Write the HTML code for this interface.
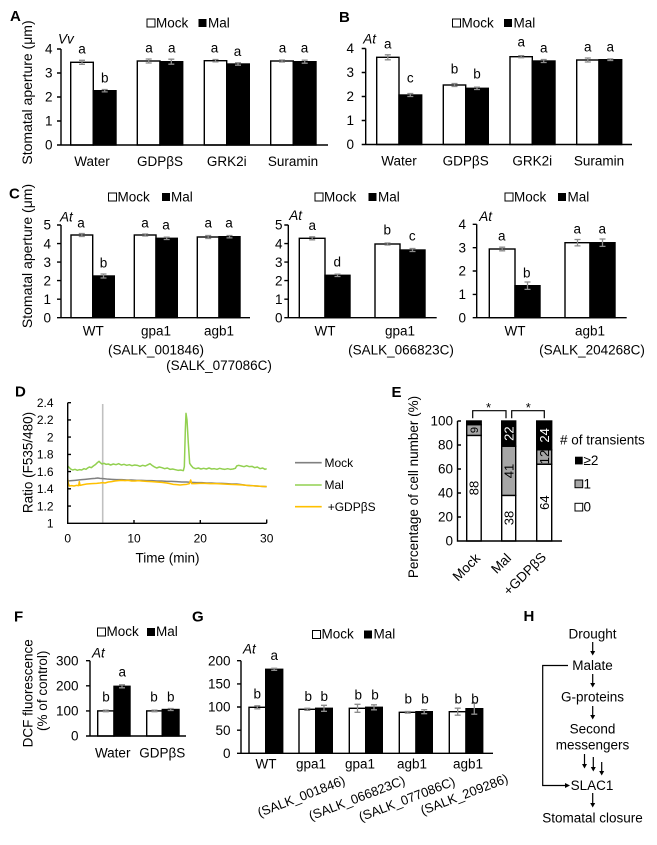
<!DOCTYPE html>
<html><head><meta charset="utf-8"><style>
html,body{margin:0;padding:0;background:#fff;}
svg{display:block;}
text{font-family:"Liberation Sans",Arial,sans-serif;fill:#000;}
.pl{font-weight:bold;font-size:15px;}
.it{font-style:italic;}
</style></head><body>
<svg width="657" height="845" viewBox="0 0 657 845" font-size="13.5">
<!-- ===== Panel A ===== -->
<text class="pl" x="10" y="21">A</text>
<rect x="147" y="19" width="8" height="8" fill="#fff" stroke="#000" stroke-width="1"/><text x="156" y="27.5">Mock</text>
<rect x="198.5" y="19" width="8" height="8" fill="#000"/><text x="208" y="27.5">Mal</text>
<text class="it" x="58" y="43.5">Vv</text>
<text transform="translate(32,92.5) rotate(-90)" text-anchor="middle" font-size="14">Stomatal aperture (μm)</text>
<g text-anchor="end"><text x="52.5" y="53.7">4</text><text x="52.5" y="77.7">3</text><text x="52.5" y="101.7">2</text><text x="52.5" y="125.7">1</text><text x="52.5" y="149.7">0</text></g>
<g stroke="#000" stroke-width="1.4">
<rect x="70.7" y="62.3" width="22.6" height="82.7" fill="#fff"/><rect x="93.3" y="90.7" width="22.7" height="54.3" fill="#000"/>
<rect x="137.3" y="61" width="22.7" height="84" fill="#fff"/><rect x="160" y="61.7" width="22.7" height="83.3" fill="#000"/>
<rect x="204.3" y="60.7" width="22.4" height="84.3" fill="#fff"/><rect x="226.7" y="64" width="22.6" height="81" fill="#000"/>
<rect x="270.7" y="61" width="22.6" height="84" fill="#fff"/><rect x="293.3" y="61.7" width="22.7" height="83.3" fill="#000"/>
</g>
<path d="M61,49V145H328M57,49H61M57,73H61M57,97H61M57,121H61M57,145H61" stroke="#000" stroke-width="1.4" fill="none"/>
<path d="M82,60.3V64.3M79,60.3H85M79,64.3H85M104.7,89.5V91.9M101.7,89.5H107.7M101.7,91.9H107.7M148.7,59V63M145.7,59H151.7M145.7,63H151.7M171.3,59.2V64.2M168.3,59.2H174.3M168.3,64.2H174.3M215.5,59.5V61.9M212.5,59.5H218.5M212.5,61.9H218.5M238,62.8V65.2M235,62.8H241M235,65.2H241M282,60V62M279,60H285M279,62H285M304.7,60.2V63.2M301.7,60.2H307.7M301.7,63.2H307.7" stroke="#8c8c8c" stroke-width="1.3" fill="none"/>
<g text-anchor="middle"><text x="82" y="53.5">a</text><text x="104.7" y="82.5">b</text><text x="149" y="52.7">a</text><text x="171.7" y="52.7">a</text><text x="214.5" y="52.3">a</text><text x="237.5" y="56">a</text><text x="282.5" y="52.7">a</text><text x="304.5" y="52.7">a</text>
<text x="92" y="166">Water</text><text x="160" y="166">GDPβS</text><text x="226.7" y="166">GRK2i</text><text x="293" y="166">Suramin</text></g>

<!-- ===== Panel B ===== -->
<text class="pl" x="339" y="22">B</text>
<rect x="452.5" y="19" width="8" height="8" fill="#fff" stroke="#000" stroke-width="1"/><text x="461.5" y="27.5">Mock</text>
<rect x="504" y="19" width="8" height="8" fill="#000"/><text x="513.5" y="27.5">Mal</text>
<text class="it" x="363.3" y="43.3">At</text>
<g text-anchor="end"><text x="354" y="53.2">4</text><text x="354" y="77.2">3</text><text x="354" y="101.2">2</text><text x="354" y="125.2">1</text><text x="354" y="149.2">0</text></g>
<g stroke="#000" stroke-width="1.4">
<rect x="376.7" y="57.3" width="22.3" height="87.2" fill="#fff"/><rect x="399" y="95" width="22.7" height="49.5" fill="#000"/>
<rect x="443.3" y="85" width="22.4" height="59.5" fill="#fff"/><rect x="465.7" y="88.3" width="22.6" height="56.2" fill="#000"/>
<rect x="510" y="56.7" width="22.3" height="87.8" fill="#fff"/><rect x="532.3" y="61" width="22.7" height="83.5" fill="#000"/>
<rect x="576.7" y="60" width="22.3" height="84.5" fill="#fff"/><rect x="599" y="59.7" width="22.7" height="84.8" fill="#000"/>
</g>
<path d="M365.7,48.5V144.5H632M361.7,48.5H365.7M361.7,72.5H365.7M361.7,96.5H365.7M361.7,120.5H365.7M361.7,144.5H365.7" stroke="#000" stroke-width="1.4" fill="none"/>
<path d="M387.8,54.8V59.8M384.8,54.8H390.8M384.8,59.8H390.8M410.3,93.5V96.5M407.3,93.5H413.3M407.3,96.5H413.3M454.5,83.5V86.5M451.5,83.5H457.5M451.5,86.5H457.5M477,87.1V89.5M474,87.1H480M474,89.5H480M521.2,55.7V57.7M518.2,55.7H524.2M518.2,57.7H524.2M543.7,59.5V62.5M540.7,59.5H546.7M540.7,62.5H546.7M587.8,58V62M584.8,58H590.8M584.8,62H590.8M610.3,58.9V60.5M607.3,58.9H613.3M607.3,60.5H613.3" stroke="#8c8c8c" stroke-width="1.3" fill="none"/>
<g text-anchor="middle"><text x="387.8" y="48.3">a</text><text x="410.3" y="82.3">c</text><text x="454.5" y="73.3">b</text><text x="477" y="78.3">b</text><text x="521.2" y="46.7">a</text><text x="543.7" y="52.3">a</text><text x="587.8" y="51.7">a</text><text x="610.3" y="51.7">a</text>
<text x="399" y="165.7">Water</text><text x="465.7" y="165.7">GDPβS</text><text x="532.3" y="165.7">GRK2i</text><text x="599" y="165.7">Suramin</text></g>

<!-- ===== Panel C ===== -->
<text class="pl" x="9" y="198.5">C</text>
<rect x="108.5" y="193" width="8" height="8" fill="#fff" stroke="#000" stroke-width="1"/><text x="117.5" y="201.5">Mock</text>
<rect x="162" y="193" width="8" height="8" fill="#000"/><text x="171" y="201.5">Mal</text>
<rect x="315" y="193" width="8" height="8" fill="#fff" stroke="#000" stroke-width="1"/><text x="324" y="201.5">Mock</text>
<rect x="368.5" y="193" width="8" height="8" fill="#000"/><text x="378" y="201.5">Mal</text>
<rect x="505" y="193" width="8" height="8" fill="#fff" stroke="#000" stroke-width="1"/><text x="514" y="201.5">Mock</text>
<rect x="558" y="193" width="8" height="8" fill="#000"/><text x="567.5" y="201.5">Mal</text>
<text transform="translate(32,256) rotate(-90)" text-anchor="middle" font-size="14">Stomatal aperture (μm)</text>
<text class="it" x="60" y="221.7">At</text><text class="it" x="289.3" y="220">At</text><text class="it" x="479.3" y="221">At</text>
<g text-anchor="end">
<text x="51" y="229.7">5</text><text x="51" y="248.3">4</text><text x="51" y="266.8">3</text><text x="51" y="285.3">2</text><text x="51" y="303.9">1</text><text x="51" y="322.4">0</text>
<text x="282.5" y="229.7">5</text><text x="282.5" y="248.3">4</text><text x="282.5" y="266.8">3</text><text x="282.5" y="285.3">2</text><text x="282.5" y="303.9">1</text><text x="282.5" y="322.4">0</text>
<text x="466" y="229">4</text><text x="466" y="252.4">3</text><text x="466" y="275.7">2</text><text x="466" y="299.1">1</text><text x="466" y="322.4">0</text>
</g>
<g stroke="#000" stroke-width="1.4">
<rect x="71" y="235" width="21.7" height="82.7" fill="#fff"/><rect x="92.7" y="276" width="21.6" height="41.7" fill="#000"/>
<rect x="134.3" y="235" width="21.7" height="82.7" fill="#fff"/><rect x="156" y="238.3" width="21.3" height="79.4" fill="#000"/>
<rect x="197.3" y="237" width="21.7" height="80.7" fill="#fff"/><rect x="219" y="236.7" width="21" height="81" fill="#000"/>
<rect x="299.3" y="238.3" width="25.7" height="79.4" fill="#fff"/><rect x="325" y="275.3" width="25" height="42.4" fill="#000"/>
<rect x="375" y="244" width="25" height="73.7" fill="#fff"/><rect x="400" y="250" width="25" height="67.7" fill="#000"/>
<rect x="489.3" y="249" width="25.7" height="68.7" fill="#fff"/><rect x="515" y="285.7" width="25" height="32" fill="#000"/>
<rect x="565" y="242.7" width="25" height="75" fill="#fff"/><rect x="590" y="242.7" width="25" height="75" fill="#000"/>
</g>
<path d="M61,225V317.7H250M57,225H61M57,243.6H61M57,262.1H61M57,280.6H61M57,299.2H61M57,317.7H61
M288.3,225V317.7H436.7M284.3,225H288.3M284.3,243.6H288.3M284.3,262.1H288.3M284.3,280.6H288.3M284.3,299.2H288.3M284.3,317.7H288.3
M476.7,224.3V317.7H626.7M472.7,224.3H476.7M472.7,247.7H476.7M472.7,271H476.7M472.7,294.4H476.7M472.7,317.7H476.7" stroke="#000" stroke-width="1.4" fill="none"/>
<path d="M81.8,233.5V236.5M78.8,233.5H84.8M78.8,236.5H84.8M103.5,274V278M100.5,274H106.5M100.5,278H106.5M145.2,234V236M142.2,234H148.2M142.2,236H148.2M166.7,237.1V239.5M163.7,237.1H169.7M163.7,239.5H169.7M208.2,235.5V238.5M205.2,235.5H211.2M205.2,238.5H211.2M229.5,235.5V237.9M226.5,235.5H232.5M226.5,237.9H232.5
M312.2,236.8V239.8M309.2,236.8H315.2M309.2,239.8H315.2M337.5,274.1V276.5M334.5,274.1H340.5M334.5,276.5H340.5M387.5,243V245M384.5,243H390.5M384.5,245H390.5M412.5,248.5V251.5M409.5,248.5H415.5M409.5,251.5H415.5
M502.2,247.2V250.8M499.2,247.2H505.2M499.2,250.8H505.2M527.5,282V289.4M524.5,282H530.5M524.5,289.4H530.5M577.5,239.5V245.9M574.5,239.5H580.5M574.5,245.9H580.5M602.5,239V246.4M599.5,239H605.5M599.5,246.4H605.5" stroke="#8c8c8c" stroke-width="1.3" fill="none"/>
<g text-anchor="middle">
<text x="81" y="227.3">a</text><text x="103.5" y="267.3">b</text><text x="145" y="227.3">a</text><text x="166" y="229.3">a</text><text x="208.3" y="227.3">a</text><text x="229" y="227.3">a</text>
<text x="312.3" y="230">a</text><text x="337.3" y="266.7">d</text><text x="387.3" y="234.3">b</text><text x="412.3" y="240.7">c</text>
<text x="501.7" y="240.7">a</text><text x="526.7" y="277.7">b</text><text x="577.3" y="233.3">a</text><text x="602.3" y="233.3">a</text>
<text x="93.3" y="335.5">WT</text><text x="156" y="335.5">gpa1</text><text x="219" y="335.5">agb1</text>
<text x="156" y="354.5">(SALK_001846)</text><text x="219" y="370">(SALK_077086C)</text>
<text x="325" y="335.5">WT</text><text x="400" y="335.5">gpa1</text><text x="401" y="354.5">(SALK_066823C)</text>
<text x="515" y="335.5">WT</text><text x="590" y="335.5">agb1</text><text x="592" y="354.5">(SALK_204268C)</text>
</g>

<!-- ===== Panel D ===== -->
<text class="pl" x="15" y="396.5">D</text>
<text transform="translate(32.5,462.5) rotate(-90)" text-anchor="middle">Ratio (F535/480)</text>
<g text-anchor="end" font-size="12">
<text x="53.5" y="407">2.4</text><text x="53.5" y="424.2">2.2</text><text x="53.5" y="441.4">2</text><text x="53.5" y="458.7">1.8</text><text x="53.5" y="475.9">1.6</text><text x="53.5" y="493.1">1.4</text><text x="53.5" y="510.4">1.2</text><text x="53.5" y="527.6">1</text>
</g>
<g text-anchor="middle" font-size="12"><text x="67.7" y="542.5">0</text><text x="134" y="542.5">10</text><text x="200.3" y="542.5">20</text><text x="266.7" y="542.5">30</text></g>
<text x="167.5" y="562.3" text-anchor="middle">Time (min)</text>
<line x1="102.7" y1="404" x2="102.7" y2="522.5" stroke="#c0c0c0" stroke-width="1.6"/>
<g transform="translate(0,400) scale(0.333333)" fill="none" stroke-width="4.5" stroke-linejoin="round">
<polyline stroke="#808080" points="203,243 215,242 225,241 235,240 245,239 255,238 265,237 275,236 285,235 293,234 300,235 310,236 320,237 335,238 350,239 365,239 380,240 395,240 410,241 425,241 440,242 455,242 470,243 485,243 500,244 515,244 530,245 545,246 560,246 575,247 590,248 605,248 620,249 635,249 650,250 665,250 680,251 695,252 710,252 725,254 740,256 755,257 770,258 785,259 800,260"/>
<polyline stroke="#FFC000" points="203,236 205,250 208,258 215,257 222,258 230,256 236,257 238,245 240,256 250,254 260,252 275,251 290,250 300,249 308,248 315,249 325,246 335,245 345,243 355,242 365,241 375,242 385,241 395,243 405,243 415,242 425,243 440,244 455,245 470,246 485,247 500,249 510,251 520,253 530,254 540,255 550,254 560,253 568,251 572,240 575,251 585,251 600,250 615,250 630,251 650,251 670,252 690,253 710,254 730,255 750,257 770,258 785,259 800,260"/>
<polyline stroke="#92D050" points="203,198 207,202 212,207 218,210 225,208 232,211 238,209 245,210 252,206 258,208 263,204 268,201 274,203 280,198 286,194 292,188 297,184 301,188 306,192 312,190 318,193 325,192 332,195 340,192 348,194 356,191 364,195 372,193 380,196 388,194 396,197 404,195 412,196 420,199 428,196 436,198 444,194 450,191 456,196 462,200 470,204 478,201 486,203 494,206 502,204 510,208 518,207 526,209 534,211 542,210 550,212 553,200 556,90 558,40 561,60 565,130 569,190 573,196 579,203 587,206 595,204 603,207 611,205 619,207 627,204 635,207 643,206 651,208 659,205 667,207 675,208 683,206 691,208 699,207 706,205 710,198 716,196 724,198 732,200 740,197 748,200 756,199 764,203 772,201 780,206 788,204 795,208 800,206"/>
</g>
<path d="M67.7,402.7V523.3H266.7M67.7,402.7H71M67.7,419.9H71M67.7,437.1H71M67.7,454.4H71M67.7,471.6H71M67.7,488.8H71M67.7,506.1H71M134,523.3V520M200.3,523.3V520M266.7,523.3V519.5" stroke="#000" stroke-width="1.4" fill="none"/>
<line x1="295" y1="462.7" x2="321.7" y2="462.7" stroke="#808080" stroke-width="1.6"/><text x="324.5" y="467" font-size="12">Mock</text>
<line x1="295" y1="485" x2="321.7" y2="485" stroke="#92D050" stroke-width="1.6"/><text x="324.5" y="489" font-size="12">Mal</text>
<line x1="295" y1="506.7" x2="321.7" y2="506.7" stroke="#FFC000" stroke-width="1.6"/><text x="327.7" y="511" font-size="12">+GDPβS</text>

<!-- ===== Panel E ===== -->
<text class="pl" x="391.5" y="397">E</text>
<text transform="translate(418,487) rotate(-90)" text-anchor="middle">Percentage of cell number (%)</text>
<g text-anchor="end"><text x="453" y="425.5">100</text><text x="453" y="449.5">80</text><text x="453" y="473.5">60</text><text x="453" y="497.5">40</text><text x="453" y="521.5">20</text><text x="453" y="545.5">0</text></g>
<g stroke="#000" stroke-width="1.4">
<rect x="466.7" y="435.4" width="14.5" height="105.6" fill="#fff"/><rect x="466.7" y="424.6" width="14.5" height="10.8" fill="#a6a6a6"/><rect x="466.7" y="421" width="14.5" height="3.6" fill="#000"/>
<rect x="501.7" y="495.4" width="14" height="45.6" fill="#fff"/><rect x="501.7" y="446.2" width="14" height="49.2" fill="#a6a6a6"/><rect x="501.7" y="421" width="14" height="25.2" fill="#000"/>
<rect x="536.7" y="464.2" width="15" height="76.8" fill="#fff"/><rect x="536.7" y="449.8" width="15" height="14.4" fill="#a6a6a6"/><rect x="536.7" y="421" width="15" height="28.8" fill="#000"/>
</g>
<path d="M457.5,421V541H562M457.5,421H461M457.5,445H461M457.5,469H461M457.5,493H461M457.5,517H461" stroke="#000" stroke-width="1.4" fill="none"/>
<g text-anchor="middle" font-size="13">
<text transform="translate(474,488) rotate(-90)" dy="0.35em">88</text>
<text transform="translate(474,430) rotate(-90)" dy="0.35em" font-size="11">9</text>
<text transform="translate(508.7,518) rotate(-90)" dy="0.35em">38</text>
<text transform="translate(508.7,471) rotate(-90)" dy="0.35em">41</text>
<text transform="translate(508.7,433.6) rotate(-90)" dy="0.35em" style="fill:#fff">22</text>
<text transform="translate(544.2,502.6) rotate(-90)" dy="0.35em">64</text>
<text transform="translate(544.2,457) rotate(-90)" dy="0.35em">12</text>
<text transform="translate(544.2,435.4) rotate(-90)" dy="0.35em" style="fill:#fff">24</text>
</g>
<path d="M472.7,418.3V410.7H506V418.3M511.7,418.3V410.7H544.3V418.3" stroke="#000" stroke-width="1.2" fill="none"/>
<text x="488.5" y="412" text-anchor="middle" font-size="13">*</text><text x="528.3" y="412" text-anchor="middle" font-size="13">*</text>
<text transform="translate(481,559) rotate(-45)" text-anchor="end">Mock</text>
<text transform="translate(512,559) rotate(-45)" text-anchor="end">Mal</text>
<text transform="translate(547,558) rotate(-45)" text-anchor="end">+GDPβS</text>
<text x="560" y="444.3"># of transients</text>
<rect x="575" y="456.7" width="7.7" height="7.7" fill="#000"/><text x="583.5" y="465">≥2</text>
<rect x="575" y="480" width="7.7" height="7.7" fill="#a6a6a6" stroke="#000" stroke-width="1"/><text x="583.5" y="488.3">1</text>
<rect x="575" y="503.3" width="7.7" height="7.7" fill="#fff" stroke="#000" stroke-width="1"/><text x="583.5" y="511.7">0</text>

<!-- ===== Panel F ===== -->
<text class="pl" x="14" y="621.5">F</text>
<rect x="97.5" y="628" width="8" height="8" fill="#fff" stroke="#000" stroke-width="1"/><text x="106.5" y="636">Mock</text>
<rect x="147" y="628" width="8" height="8" fill="#000"/><text x="156" y="636">Mal</text>
<text transform="translate(32.5,693.3) rotate(-90)" text-anchor="middle">DCF fluorescence</text>
<text transform="translate(47,690.8) rotate(-90)" text-anchor="middle">(% of control)</text>
<text class="it" x="92" y="657.3">At</text>
<g text-anchor="end"><text x="78.5" y="665.4">300</text><text x="78.5" y="690.5">200</text><text x="78.5" y="715.6">100</text><text x="78.5" y="740.7">0</text></g>
<g stroke="#000" stroke-width="1.4">
<rect x="97.7" y="710.9" width="16.3" height="25.1" fill="#fff"/><rect x="114" y="686.3" width="16" height="49.7" fill="#000"/>
<rect x="146.7" y="710.9" width="15.6" height="25.1" fill="#fff"/><rect x="162.3" y="709.5" width="16.7" height="26.5" fill="#000"/>
</g>
<path d="M90,660.7V736H186M86,660.7H90M86,685.8H90M86,710.9H90M86,736H90" stroke="#000" stroke-width="1.4" fill="none"/>
<path d="M105.8,710.1V711.7M102.8,710.1H108.8M102.8,711.7H108.8M122,684.8V687.8M119,684.8H125M119,687.8H125M154.5,710.1V711.7M151.5,710.1H157.5M151.5,711.7H157.5M170.7,708.5V710.5M167.7,708.5H173.7M167.7,710.5H173.7" stroke="#8c8c8c" stroke-width="1.3" fill="none"/>
<g text-anchor="middle"><text x="106" y="701.7">b</text><text x="122.3" y="676.7">a</text><text x="154" y="701.7">b</text><text x="170.7" y="701.7">b</text>
<text x="112.7" y="757.3">Water</text><text x="162.3" y="757.3">GDPβS</text></g>

<!-- ===== Panel G ===== -->
<text class="pl" x="192" y="621.5">G</text>
<rect x="312.5" y="630.5" width="8" height="8" fill="#fff" stroke="#000" stroke-width="1"/><text x="321.5" y="638.5">Mock</text>
<rect x="364" y="630.5" width="8" height="8" fill="#000"/><text x="373.5" y="638.5">Mal</text>
<text class="it" x="243" y="653.3">At</text>
<g text-anchor="end"><text x="230.5" y="665.4">200</text><text x="230.5" y="688.6">150</text><text x="230.5" y="711.7">100</text><text x="230.5" y="734.9">50</text><text x="230.5" y="758">0</text></g>
<g stroke="#000" stroke-width="1.4">
<rect x="249" y="707.3" width="16.7" height="46" fill="#fff"/><rect x="265.7" y="669.3" width="17" height="84" fill="#000"/>
<rect x="299" y="709.3" width="16.7" height="44" fill="#fff"/><rect x="315.7" y="708.3" width="16.6" height="45" fill="#000"/>
<rect x="349.3" y="708.3" width="16.4" height="45" fill="#fff"/><rect x="365.7" y="707.3" width="16.6" height="46" fill="#000"/>
<rect x="399.3" y="712.3" width="16.7" height="41" fill="#fff"/><rect x="416" y="711.7" width="16.3" height="41.6" fill="#000"/>
<rect x="449.3" y="711.7" width="16.7" height="41.6" fill="#fff"/><rect x="466" y="708.7" width="16.7" height="44.6" fill="#000"/>
</g>
<path d="M241,660.7V753.3H493M237,660.7H241M237,683.9H241M237,707H241M237,730.2H241M237,753.3H241" stroke="#000" stroke-width="1.4" fill="none"/>
<path d="M257.3,705.8V708.8M254.3,705.8H260.3M254.3,708.8H260.3M274.2,668.3V670.3M271.2,668.3H277.2M271.2,670.3H277.2M307.3,708.3V710.3M304.3,708.3H310.3M304.3,710.3H310.3M324,705.3V711.3M321,705.3H327M321,711.3H327M357.5,704.3V712.3M354.5,704.3H360.5M354.5,712.3H360.5M374,704.8V709.8M371,704.8H377M371,709.8H377M407.7,711.5V713.1M404.7,711.5H410.7M404.7,713.1H410.7M424.2,709.7V713.7M421.2,709.7H427.2M421.2,713.7H427.2M457.7,708.2V715.2M454.7,708.2H460.7M454.7,715.2H460.7M474.3,703.2V714.2M471.3,703.2H477.3M471.3,714.2H477.3" stroke="#8c8c8c" stroke-width="1.3" fill="none"/>
<g text-anchor="middle">
<text x="257.3" y="698.3">b</text><text x="274.3" y="660">a</text><text x="308.3" y="701">b</text><text x="324.3" y="701">b</text><text x="358.3" y="699.3">b</text><text x="375" y="699.3">b</text><text x="408.3" y="703.3">b</text><text x="425" y="703.3">b</text><text x="458.3" y="703.3">b</text><text x="475" y="703.3">b</text>
<text x="266" y="768.3">WT</text><text x="311" y="768.3">gpa1</text><text x="360" y="768.3">gpa1</text><text x="412" y="768.3">agb1</text><text x="468" y="768.3">agb1</text>
</g>
<g text-anchor="end" font-size="13">
<text transform="translate(346,784) rotate(-21)">(SALK_001846)</text>
<text transform="translate(406,784) rotate(-21)">(SALK_066823C)</text>
<text transform="translate(456,785) rotate(-21)">(SALK_077086C)</text>
<text transform="translate(509,782) rotate(-21)">(SALK_209286)</text>
</g>

<!-- ===== Panel H ===== -->
<text class="pl" x="523.5" y="621">H</text>
<g text-anchor="middle">
<text x="592.5" y="638.7">Drought</text>
<text x="592.5" y="670">Malate</text>
<text x="592.5" y="701.7">G-proteins</text>
<text x="592.5" y="733.3">Second</text>
<text x="592.5" y="749.3">messengers</text>
<text x="592" y="790">SLAC1</text>
<text x="592.5" y="822.3">Stomatal closure</text>
</g>
<g stroke="#000" stroke-width="1.2" fill="none">
<path d="M592.7,642V652M592.7,674V684M592.7,706V716M584.5,754V765M593.3,757V768M601.7,762V772M592.7,793V804"/>
<path d="M568,665.5H542.7V785.5H566"/>
</g>
<g fill="#000">
<polygon points="590.2,651 595.2,651 592.7,655.5"/>
<polygon points="590.2,683 595.2,683 592.7,687.5"/>
<polygon points="590.2,715 595.2,715 592.7,719.5"/>
<polygon points="582,764 587,764 584.5,768.5"/>
<polygon points="590.8,767 595.8,767 593.3,771.5"/>
<polygon points="599.2,771 604.2,771 601.7,775.5"/>
<polygon points="590.2,803 595.2,803 592.7,807.5"/>
<polygon points="565,783 565,788 570,785.5"/>
</g>
</svg>
</body></html>
